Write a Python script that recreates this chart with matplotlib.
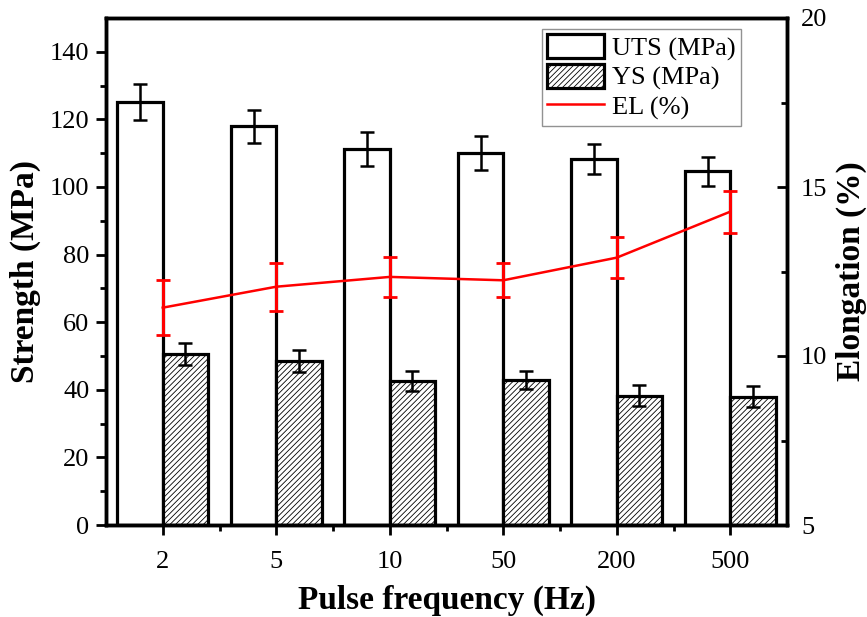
import matplotlib
matplotlib.use("Agg")
import matplotlib.pyplot as plt
import numpy as np
from matplotlib.lines import Line2D

plt.rcParams['font.family'] = ['Liberation Serif', 'DejaVu Serif']
plt.rcParams['hatch.linewidth'] = 0.6
plt.rcParams['hatch.color'] = '#555555'

categories = ['2', '5', '10', '50', '200', '500']
uts = [125.1, 117.9, 111.3, 110.0, 108.3, 104.6]
uts_err = [5.3, 5.0, 5.1, 5.1, 4.4, 4.3]
ys = [50.5, 48.5, 42.5, 42.9, 38.3, 38.0]
ys_err = [3.2, 3.3, 3.0, 2.6, 3.1, 3.0]
el = [11.43, 12.05, 12.34, 12.24, 12.91, 14.27]
el_err = [0.81, 0.71, 0.60, 0.50, 0.61, 0.62]

fig = plt.figure(figsize=(8.67, 6.17), dpi=100)
ax = fig.add_axes([106/867, 1-525/617, (787-106)/867, (525-18)/617])
x = np.arange(len(categories))
w = 0.4
lw = 2.3

ax.bar(x - w/2, uts, w, color='white', edgecolor='black', linewidth=lw,
       label='UTS (MPa)', zorder=2)
ax.errorbar(x - w/2, uts, yerr=uts_err, fmt='none', ecolor='black',
            elinewidth=1.8, capsize=5, capthick=1.8, zorder=3)
ax.bar(x + w/2, ys, w, color='white', edgecolor='black', linewidth=lw,
       hatch='//////', label='YS (MPa)', zorder=2)
ax.errorbar(x + w/2, ys, yerr=ys_err, fmt='none', ecolor='black',
            elinewidth=1.8, capsize=5, capthick=1.8, zorder=3)

ax.set_xlim(-0.5, 5.5)
ax.set_ylim(0, 150)
ax.set_xticks(x)
ax.set_xticklabels(categories)
ax.set_xticks(x[:-1] + 0.5, minor=True)
ax.set_yticks(np.arange(0, 141, 20))
ax.set_yticks(np.arange(10, 141, 20), minor=True)
ax.tick_params(axis='both', which='major', direction='out', length=7, width=2,
               labelsize=19)
ax.tick_params(axis='both', which='minor', direction='out', length=4, width=2)
ax.tick_params(axis='x', pad=12)
ax.tick_params(axis='y', pad=5)
for s in ax.spines.values():
    s.set_linewidth(2.5)

ax2 = ax.twinx()
ax2.errorbar(x, el, yerr=el_err, color='red', linewidth=1.8, ecolor='red',
             elinewidth=2.2, capsize=5, capthick=2, label='EL (%)', zorder=4)
ax2.set_ylim(5, 20)
ax2.set_yticks([5, 10, 15, 20])
ax2.set_yticks([7.5, 12.5, 17.5], minor=True)
ax2.tick_params(axis='y', which='major', direction='in', length=7, width=2,
                labelsize=19, pad=10)
ax2.tick_params(axis='y', which='minor', direction='in', length=4, width=2)
for s in ax2.spines.values():
    s.set_linewidth(2.5)

ax.set_xlabel('Pulse frequency (Hz)', fontsize=24, fontweight='bold', labelpad=8)
ax.set_ylabel('Strength (MPa)', fontsize=24, fontweight='bold', labelpad=6)
ax2.set_ylabel('Elongation (%)', fontsize=24, fontweight='bold', labelpad=6)

h1, l1 = ax.get_legend_handles_labels()
h2 = [Line2D([0], [0], color='red', linewidth=1.8)]
leg = ax2.legend(h1 + h2, l1 + ['EL (%)'], loc='upper right',
                 bbox_to_anchor=(0.932, 0.979),
                 fontsize=19, frameon=True, fancybox=False, edgecolor='#777777',
                 handlelength=2.15, handleheight=1.05, handletextpad=0.3,
                 labelspacing=0.12, borderpad=0.2, borderaxespad=0)
leg.get_frame().set_linewidth(1.0)

fig.savefig('out.png', dpi=100, facecolor='white')
